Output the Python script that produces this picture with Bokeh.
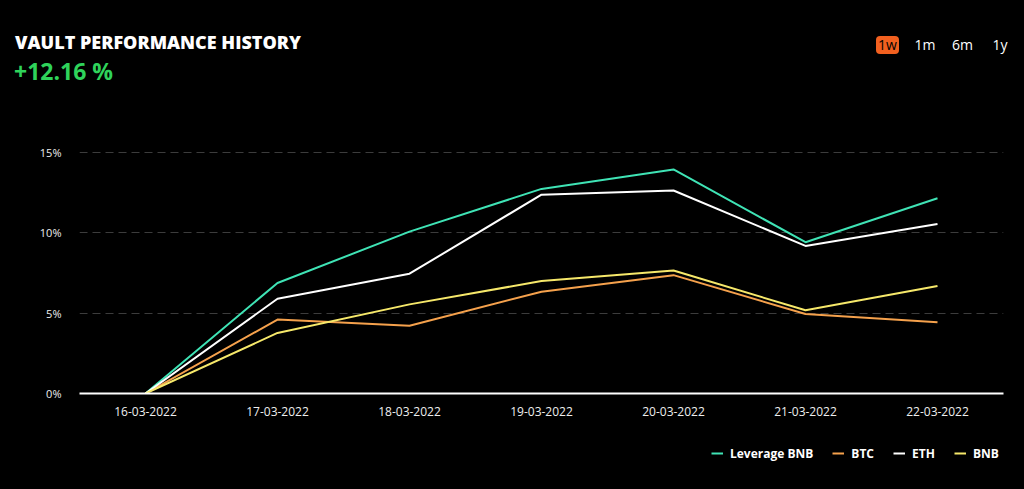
from bokeh.plotting import figure
from bokeh.layouts import column
from bokeh.models import Div, Legend, LegendItem, FixedTicker, Range1d, FactorRange
from bokeh.embed import file_html
from bokeh.resources import INLINE

dates = ["16-03-2022", "17-03-2022", "18-03-2022", "19-03-2022",
         "20-03-2022", "21-03-2022", "22-03-2022"]
leverage_bnb = [0, 6.88, 10.08, 12.74, 13.95, 9.42, 12.16]
btc = [0, 4.60, 4.22, 6.34, 7.37, 4.95, 4.44]
eth = [0, 5.90, 7.46, 12.38, 12.64, 9.19, 10.55]
bnb = [0, 3.77, 5.55, 7.00, 7.66, 5.18, 6.69]
series_names = ["Leverage BNB", "BTC", "ETH", "BNB"]
series_colors = ["#3fe3b5", "#f5a14c", "#ffffff", "#f6e86a"]
y_ticks = [0, 5, 10, 15]
y_tick_labels = ["0%", "5%", "10%", "15%"]
periods = ["1w", "1m", "6m", "1y"]
title_text = "VAULT PERFORMANCE HISTORY"
performance_text = "+12.16 %"

FONT = "Open Sans"
BG = "#000000"
W = 1024
series_values = [leverage_bnb, btc, eth, bnb]

# ---------- header (HTML text) ----------
period_centers = [887.5, 925, 962.5, 1000]
spans = [
    f'<span style="position:absolute;left:15px;top:30px;font-size:18px;font-weight:800;'
    f'color:#ffffff;line-height:24px;white-space:nowrap;">{title_text}</span>',
    f'<span style="position:absolute;left:14px;top:57px;font-size:23px;font-weight:700;'
    f'color:#2fd35b;line-height:28px;white-space:nowrap;">{performance_text}</span>',
]
for i, (t, c) in enumerate(zip(periods, period_centers)):
    if i == 0:
        spans.append(
            f'<span style="position:absolute;left:{c - 11.5}px;top:36px;width:23px;height:18px;'
            f'background:#f2601f;border-radius:4px;color:#000000;font-size:14px;'
            f'line-height:18px;text-align:center;">{t}</span>')
    else:
        spans.append(
            f'<span style="position:absolute;left:{c - 15}px;top:36px;width:30px;height:18px;'
            f'color:#ffffff;font-size:14px;line-height:18px;text-align:center;">{t}</span>')
header_html = (f'<div style="position:relative;width:{W}px;height:128px;background:{BG};'
               f'font-family:\'{FONT}\',sans-serif;">' + "".join(spans) + '</div>')
header = Div(text=header_html, width=W, height=128, margin=0,
             styles={"background-color": BG})

# ---------- main chart ----------
p = figure(width=W, height=302, x_range=FactorRange(*dates),
           y_range=Range1d(0, 16.5), output_backend="svg",
           toolbar_location=None, min_border_left=79, min_border_right=21,
           min_border_top=0, min_border_bottom=37)
p.background_fill_color = BG
p.border_fill_color = BG
p.outline_line_color = None

for vals, col in zip(series_values, series_colors):
    p.line(dates, vals, line_color=col, line_width=2)

p.xaxis.axis_line_color = "#ffffff"
p.xaxis.axis_line_width = 2
p.xaxis.major_tick_line_color = None
p.xaxis.minor_tick_line_color = None
p.xaxis.major_label_text_color = "#eeeeee"
p.xaxis.major_label_text_font = FONT
p.xaxis.major_label_text_font_size = "12px"
p.xaxis.major_label_standoff = 7

p.yaxis.ticker = FixedTicker(ticks=y_ticks)
p.yaxis.major_label_overrides = {t: l for t, l in zip(y_ticks, y_tick_labels)}
p.yaxis.axis_line_color = None
p.yaxis.major_tick_line_color = None
p.yaxis.minor_tick_line_color = None
p.yaxis.major_label_text_color = "#eeeeee"
p.yaxis.major_label_text_font = FONT
p.yaxis.major_label_text_font_size = "11px"
p.yaxis.major_label_standoff = 12

p.xgrid.grid_line_color = None
p.ygrid.ticker = FixedTicker(ticks=y_ticks)
p.ygrid.grid_line_color = "#3c3c3c"
p.ygrid.grid_line_dash = "8 5"
p.ygrid.grid_line_width = 1

# ---------- legend strip (same series, plotted out of its visible range) ----------
footer = figure(width=W, height=59, x_range=FactorRange(*dates), y_range=Range1d(-2, -1),
                x_axis_type=None, y_axis_type=None, output_backend="svg",
                toolbar_location=None, min_border_left=79, min_border_right=21,
                min_border_top=0, min_border_bottom=0)
footer.background_fill_color = BG
footer.border_fill_color = BG
footer.outline_line_color = None
footer.grid.visible = False
items = []
for name, vals, col in zip(series_names, series_values, series_colors):
    r = footer.line(dates, vals, line_color=col, line_width=2)
    items.append(LegendItem(label=name, renderers=[r]))
legend = Legend(items=items, orientation="horizontal", location=(632, 27),
                glyph_width=12, glyph_height=18, label_standoff=7, spacing=19,
                padding=0, margin=0, border_line_color=None,
                background_fill_alpha=0, label_text_color="#ffffff",
                label_text_font=FONT, label_text_font_style="bold",
                label_text_font_size="12px", label_height=18)
footer.add_layout(legend, "center")

layout = column(header, p, footer, spacing=0)
layout.styles = {"background-color": BG}
open("out.html", "w").write(file_html(layout, INLINE))
